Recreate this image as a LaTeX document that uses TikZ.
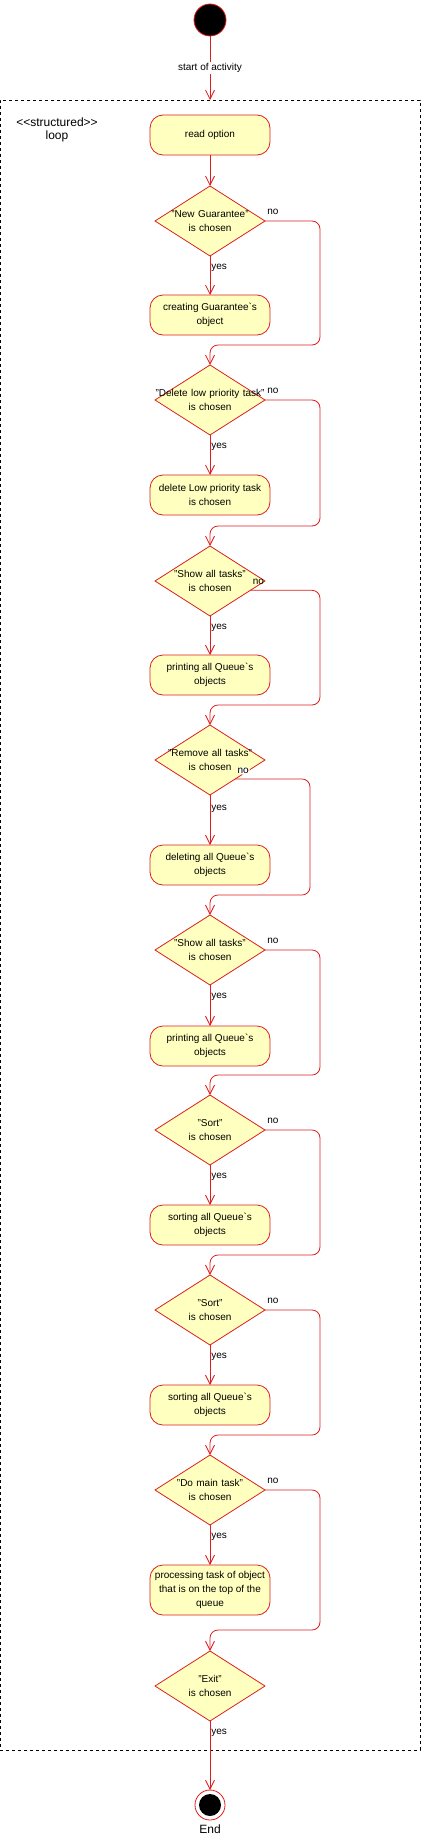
\documentclass[tikz,border=0pt]{standalone}
\usepackage{fontspec}
\setmainfont{Liberation Sans}
\usetikzlibrary{positioning,shapes.geometric,arrows.meta,calc}

\definecolor{umlred}{RGB}{222,30,30}
\definecolor{umlfill}{RGB}{255,255,192}

\newcommand{\chosen}[1]{\makebox[0pt]{#1}\\\makebox[0pt]{is chosen}}

\tikzset{
  startstate/.style={circle, fill=black, draw=umlred, line width=0.8pt, minimum size=32pt, inner sep=0pt, outer sep=0pt},
  endstate/.style={circle, draw=umlred, fill=white, line width=0.8pt, minimum size=30pt, inner sep=0pt, outer sep=0pt,
    path picture={\fill[black] (path picture bounding box.center) circle (11pt);}},
  action/.style={rectangle, rounded corners=13pt, draw=umlred, fill=umlfill, line width=0.8pt,
    minimum width=120pt, minimum height=40pt, align=center, inner sep=2pt, outer sep=0pt},
  decision/.style={diamond, shape aspect=1.571, draw=umlred, fill=umlfill, line width=0.8pt, minimum width=110pt,
    minimum height=70pt, inner sep=0pt, outer sep=0pt, text width=20pt, align=center},
  flow/.style={draw=umlred, line width=0.8pt, -{Straight Barb[length=9pt,width=9pt]}},
  loopframe/.style={draw, line width=0.8pt, dash pattern=on 3pt off 3pt, minimum width=420pt,
    minimum height=1650pt, inner sep=0pt, outer sep=0pt},
  guard/.style={text=black, inner sep=1pt},
  nolabel/.style={guard, anchor=south west, xshift=1pt, yshift=5pt}
}

\begin{document}
\begin{tikzpicture}[auto,font=\fontsize{10pt}{14pt}\selectfont]
    \useasboundingbox (0,0) rectangle (422pt,-1841pt);
    \node[loopframe] (loop) at (210pt,-925pt) {};
    \node[align=center, font=\fontsize{12pt}{13pt}\selectfont] (looptitle) at (57pt,-130pt) {<{}<structured>{}>\\loop};

    \node[startstate] (start) at (210pt,-20pt) {};
    \node[action] (read) [below=79pt of start] {read option};
    \node[decision] (d1) [below=31pt of read] {\chosen{"New Guarantee"}};
    \node[action] (a1) [below=39pt of d1] {creating Guarantee\textasciigrave s\\object};
    \node[decision] (d2) [below=30pt of a1] {\chosen{"Delete low priority task"}};
    \node[action] (a2) [below=40pt of d2] {delete Low priority task\\is chosen};
    \node[decision] (d3) [below=31pt of a2] {\chosen{"Show all tasks"}};
    \node[action] (a3) [below=39pt of d3] {printing all Queue\textasciigrave s\\objects};
    \node[decision] (d4) [below=30pt of a3] {\chosen{"Remove all tasks"}};
    \node[action] (a4) [below=50pt of d4] {deleting all Queue\textasciigrave s\\objects};
    \node[decision] (d5) [below=30pt of a4] {\chosen{"Show all tasks"}};
    \node[action] (a5) [below=41pt of d5] {printing all Queue\textasciigrave s\\objects};
    \node[decision] (d6) [below=29pt of a5] {\chosen{"Sort"}};
    \node[action] (a6) [below=40pt of d6] {sorting all Queue\textasciigrave s\\objects};
    \node[decision] (d7) [below=30pt of a6] {\chosen{"Sort"}};
    \node[action] (a7) [below=40pt of d7] {sorting all Queue\textasciigrave s\\objects};
    \node[decision] (d8) [below=30pt of a7] {\chosen{"Do main task"}};
    \node[action, minimum height=50pt] (a8) [below=40pt of d8] {processing task of object\\that is on the top of the\\queue};
    \node[decision] (d9) [below=36pt of a8] {\chosen{"Exit"}};
    \node[endstate] (end) [below=69pt of d9] {};
    \node[font=\fontsize{12pt}{14pt}\selectfont] (endtext) [below=1pt of end] {End};

    \draw[flow] (start) -- node[guard, fill=white, pos=0.5, anchor=center] {start of activity} (loop.north);
    \draw[flow] (read) -- (d1);
    \draw[flow] (d1) edge node[guard, pos=0.3] {yes} (a1);
    \draw[flow] (d2) edge node[guard, pos=0.3] {yes} (a2);
    \draw[flow] (d3) edge node[guard, pos=0.3] {yes} (a3);
    \draw[flow] (d4) edge node[guard, pos=0.28] {yes} (a4);
    \draw[flow] (d5) edge node[guard, pos=0.3] {yes} (a5);
    \draw[flow] (d6) edge node[guard, pos=0.3] {yes} (a6);
    \draw[flow] (d7) edge node[guard, pos=0.3] {yes} (a7);
    \draw[flow] (d8) edge node[guard, pos=0.3] {yes} (a8);
    \draw[flow] (d9) edge node[guard, pos=0.17] {yes} (end);

    \draw[flow, rounded corners=8pt] (d1.east) node[nolabel] {no} -| ($(d2.north)+(110pt,20pt)$) -| (d2.north);
    \draw[flow, rounded corners=8pt] (d2.east) node[nolabel] {no} -| ($(d3.north)+(110pt,20pt)$) -| (d3.north);
    \draw[flow, rounded corners=8pt] (d3.-13) node[nolabel, yshift=-1pt] {no} -| ($(d4.north)+(110pt,20pt)$) -| (d4.north);
    \draw[flow, rounded corners=8pt] (d4.-37) node[nolabel, fill=white, yshift=-1pt] {no} -| ($(d5.north)+(100pt,20pt)$) -| (d5.north);
    \draw[flow, rounded corners=8pt] (d5.east) node[nolabel] {no} -| ($(d6.north)+(110pt,20pt)$) -| (d6.north);
    \draw[flow, rounded corners=8pt] (d6.east) node[nolabel] {no} -| ($(d7.north)+(110pt,20pt)$) -| (d7.north);
    \draw[flow, rounded corners=8pt] (d7.east) node[nolabel] {no} -| ($(d8.north)+(110pt,20pt)$) -| (d8.north);
    \draw[flow, rounded corners=8pt] (d8.east) node[nolabel] {no} -| ($(d9.north)+(110pt,21pt)$) -| (d9.north);
\end{tikzpicture}
\end{document}
